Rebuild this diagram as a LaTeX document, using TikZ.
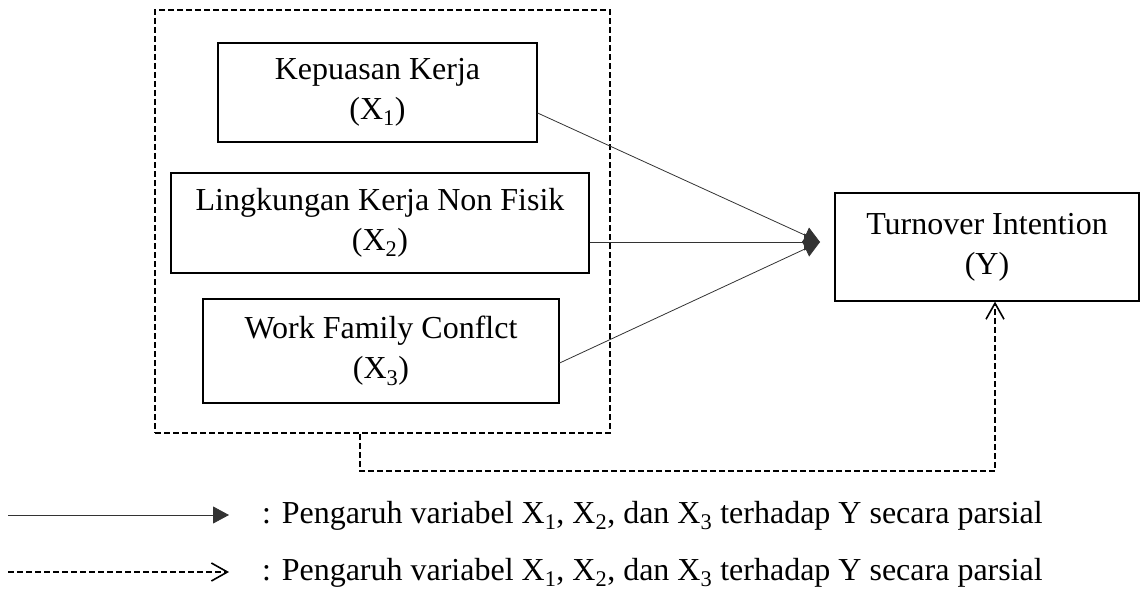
\documentclass[tikz,border=0pt]{standalone}
\usepackage{fontspec}
\setmainfont{Liberation Serif}
\usetikzlibrary{arrows.meta}
\begin{document}
\begin{tikzpicture}[x=1pt,y=-1pt,
  txt/.style={font=\fontsize{32}{40}\selectfont},
  box/.style={txt, draw, line width=1.2pt, align=center, inner sep=0pt},
  grpbox/.style={draw, line width=1.6pt, dash pattern=on 6pt off 3pt, inner sep=0pt},
  conn/.style={draw=black!80, line width=0.8pt, -{Triangle[length=16pt,width=17pt]}},
  dconn/.style={draw, line width=1.6pt, dash pattern=on 6pt off 3pt, -{Straight Barb[length=16pt,width=18pt]}},
  legtext/.style={txt, inner sep=0pt, anchor=base west}]
\useasboundingbox (0,0) rectangle (1145,591);
\node[grpbox, minimum width=455pt, minimum height=423pt] (grp) at (382.5,221.5) {};
\node[box, minimum width=319pt, minimum height=99pt] (b1) at (377.5,92.5) {Kepuasan Kerja\\(X\textsubscript{1})};
\node[box, minimum width=418pt, minimum height=100pt] (b2) at (380,223) {Lingkungan Kerja Non Fisik\\(X\textsubscript{2})};
\node[box, minimum width=356pt, minimum height=104pt] (b3) at (381,351) {Work Family Conflct\\(X\textsubscript{3})};
\node[box, minimum width=304pt, minimum height=108pt] (yb) at (987,247) {Turnover Intention\\(Y)};
\coordinate (hub) at (820,242);
\draw[conn] ([yshift=-20.5pt]b1.east) -- (hub);
\draw[conn] ([yshift=-19pt]b2.east) -- (hub);
\draw[conn] ([yshift=-12pt]b3.east) -- (hub);
\draw[dconn] ([xshift=-22.5pt]grp.south) -- ++(0,37) -| ([xshift=8pt]yb.south);
% legend
\coordinate (l1s) at (8,515);
\coordinate (l1e) at (229,515);
\coordinate (l2s) at (8,572);
\coordinate (l2e) at (229,572);
\draw[conn] (l1s) -- (l1e);
\draw[dconn] (l2s) -- (l2e);
\node[legtext] (lt1) at (262,523) {: Pengaruh variabel X\textsubscript{1}, X\textsubscript{2}, dan X\textsubscript{3} terhadap Y secara parsial};
\node[legtext] (lt2) at (262,580) {: Pengaruh variabel X\textsubscript{1}, X\textsubscript{2}, dan X\textsubscript{3} terhadap Y secara parsial};
\end{tikzpicture}
\end{document}
